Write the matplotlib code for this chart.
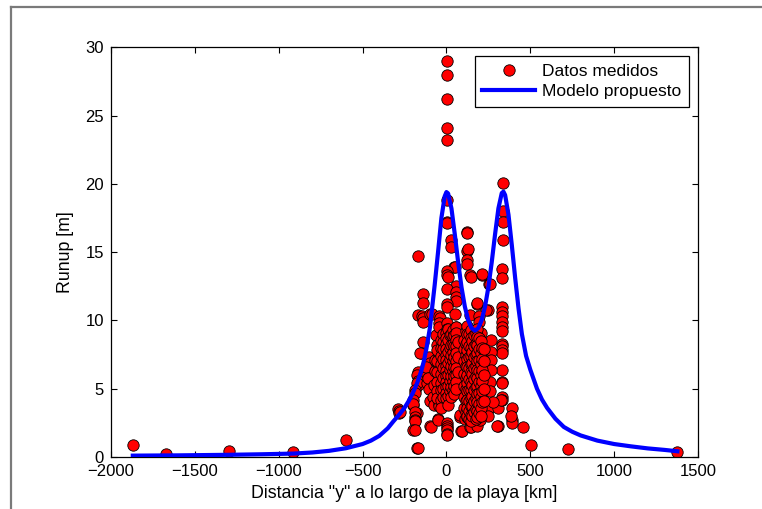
import matplotlib
matplotlib.use("Agg")
import matplotlib.pyplot as plt
from matplotlib.lines import Line2D

plt.rcParams['font.family'] = ['Liberation Sans', 'DejaVu Sans']

# Measured runup along the coast: distance y [km], runup [m]
runup_x = [
    # far field
    -1870, -1674, -1296, -917, -600,
    -287, -283, -280, -277,
    1377, 723, 503, 455, 389, 389, 392, 385, 310, 304, 256, 310,
    # southern flank
    -171, -138, -138, -168, -147, -141, -138, -98, -88, -141, -153, -157,
    -102, -98, -168, -168, -177, -168, -168, -177, -187, -187, -198, -197,
    -198, -177, -187, -187, -187, -187, -197, -190, -174, -171, -114, -117,
    -98, -98, -94, -48, -48,
    -120, -112, -105, -80, -75, -70, -70, -75, -65,
    # first peak
    2, 2, 2, 2, 2,
    2, 2, 2, 26, 26, 47, 51, 2, 2, 10, 57, 57, 2, 57, 57, 57, 2, 2, 51,
    -42, -38, -42, -42, 2, 2, 2, 57, 57, 57,
    # between peaks
    125, 121, 121, 127, 121, 121, 141, 147, 210, 210, 256, 260, 246, 236,
    184, 181, 141, 194, 194, 206,
    # second peak
    336, 336, 336, 336, 334, 334, 334, 334, 334, 334, 334, 334, 334, 334,
    334, 334, 334, 334, 330, 330, 324, 332,
    266, 266, 266, 266, 262, 262, 250, 276,
    # low values near the centre
    2, 2, 2, 2, 2, 2, 81, 81, 87, 91, 111, 121, 141, 147, 181, 200,
    # dense stations
    -42, -42, -42, -42, -42, -42, -42, -42, -42, -42, -42, -42, -42, -42, -42,
    -55, -55, -55, -55, -55, -55, -55,
    -30, -30, -30, -30, -30, -30, -30, -30, -30,
    -20, -20, -20, -20, -20, -20, -20, -20,
    0, 0, 0, 0, 0, 0, 0, 0, 0, 0, 0, 0, 0,
    10, 10, 10, 10, 10, 10, 10, 10,
    20, 20, 20, 20, 20, 20,
    30, 30, 30, 30, 30, 30, 30,
    40, 40, 40, 40, 40, 40, 40, 40,
    48, 48, 48, 48, 48, 48, 48,
    57, 57, 57, 57, 57, 57, 57, 57, 57, 57,
    70, 70, 70,
    105, 105, 105, 105, 105, 105, 105,
    115, 115, 115, 115, 115, 115, 115, 115,
    125, 125, 125, 125, 125, 125, 125, 125, 125, 125, 125, 125,
    135, 135, 135, 135, 135, 135, 135, 135, 135,
    145, 145, 145, 145, 145, 145, 145, 145, 145, 145, 145, 145,
    155, 155, 155, 155, 155, 155, 155, 155,
    165, 165, 165, 165, 165, 165, 165, 165,
    175, 175, 175, 175, 175, 175, 175, 175, 175,
    185, 185, 185, 185, 185, 185, 185, 185, 185, 185, 185, 185,
    195, 195, 195, 195, 195, 195, 195, 195,
    205, 205, 205, 205, 205, 205, 205, 205,
    215, 215, 215, 215, 215, 215,
    225, 225, 225, 225, 225,
]
runup_y = [
    0.88, 0.24, 0.46, 0.39, 1.24,
    3.5, 3.4, 3.2, 3.3,
    0.37, 0.56, 0.85, 2.2, 3.6, 2.7, 2.5, 3.0, 2.3, 2.3, 3.6, 3.6,
    14.7, 11.9, 11.3, 10.4, 10.3, 10.2, 9.9, 10.5, 10.5, 8.4, 7.6, 7.6,
    7.3, 6.9, 6.2, 5.9, 6.0, 5.6, 5.3, 5.4, 4.9, 4.7, 4.2, 3.8,
    3.9, 3.2, 3.3, 2.9, 2.7, 2.6, 2.0, 2.0, 0.68, 0.64, 6.1, 5.4,
    4.1, 2.3, 2.2, 2.8, 2.7,
    6.6, 5.8, 5.0, 4.4, 5.3, 6.3, 7.1, 3.8, 8.9,
    29.0, 28.0, 26.2, 24.1, 23.2,
    18.8, 17.2, 17.1, 15.9, 15.4, 13.9, 13.9, 13.6, 13.3, 13.2, 12.4, 12.5,
    12.3, 12.1, 11.7, 11.4, 11.2, 11.0, 10.5,
    10.3, 10.2, 9.8, 9.5, 9.8, 9.4, 9.1, 9.5, 9.1, 8.6,
    16.5, 16.4, 15.1, 15.2, 14.4, 14.1, 13.3, 13.2, 13.3, 13.4, 12.7, 12.7,
    10.8, 10.8, 11.2, 11.3, 10.4, 10.3, 9.9, 9.1,
    20.1, 18.0, 17.2, 15.9, 13.8, 13.1, 11.0, 10.6, 10.3, 9.9, 9.5, 9.2,
    8.3, 8.1, 7.8, 7.6, 6.4, 5.5, 4.4, 4.2, 4.2, 5.4,
    8.6, 7.7, 7.1, 6.4, 5.5, 4.8, 3.0, 4.0,
    2.5, 2.3, 2.1, 2.0, 1.7, 1.6, 2.9, 3.1, 1.9, 1.9, 2.8, 2.9, 2.2, 2.2, 2.3, 2.7,
    7.8, 7.5, 7.2, 6.9, 6.6, 6.3, 6.0, 5.7, 5.4, 5.1, 4.8, 4.5, 4.2, 3.9, 3.7,
    8.2, 7.8, 7.0, 6.2, 5.5, 4.8, 4.3,
    8.6, 8.0, 7.4, 6.8, 6.1, 5.4, 4.9, 4.2, 3.6,
    9.0, 8.4, 7.9, 7.2, 6.5, 5.8, 5.0, 4.4,
    9.1, 8.7, 8.3, 7.9, 7.5, 7.1, 6.7, 6.3, 5.9, 5.5, 5.1, 4.7, 4.3,
    9.4, 8.6, 7.7, 6.9, 6.0, 5.2, 4.5, 3.8,
    8.9, 8.0, 7.2, 6.4, 5.6, 4.8,
    9.0, 8.2, 7.5, 6.7, 5.9, 5.1, 4.4,
    9.3, 8.8, 8.3, 7.7, 7.0, 6.3, 5.6, 4.9,
    8.9, 8.1, 7.3, 6.6, 5.9, 5.2, 4.6,
    9.5, 9.1, 8.6, 8.1, 7.6, 7.0, 6.5, 6.0, 5.5, 5.0,
    8.4, 7.3, 6.2,
    8.6, 7.9, 7.0, 6.1, 5.2, 4.4, 3.6,
    9.2, 8.3, 7.5, 6.7, 5.8, 5.0, 4.1, 3.3,
    9.6, 9.0, 8.4, 7.8, 7.2, 6.6, 6.0, 5.4, 4.8, 4.2, 3.6, 3.0,
    9.0, 8.1, 7.3, 6.5, 5.7, 4.9, 4.1, 3.4, 2.8,
    9.3, 8.7, 8.0, 7.4, 6.8, 6.2, 5.5, 4.9, 4.3, 3.7, 3.1, 2.6,
    8.5, 7.7, 6.9, 6.1, 5.3, 4.5, 3.7, 3.0,
    8.9, 8.1, 7.3, 6.5, 5.7, 4.9, 4.1, 3.3,
    9.1, 8.3, 7.5, 6.7, 5.9, 5.1, 4.3, 3.5, 2.8,
    9.4, 8.8, 8.2, 7.6, 7.0, 6.4, 5.8, 5.2, 4.6, 4.0, 3.4, 2.9,
    8.7, 7.9, 7.1, 6.3, 5.5, 4.7, 3.9, 3.2,
    8.5, 7.6, 6.8, 6.0, 5.2, 4.4, 3.6, 3.0,
    8.0, 7.2, 6.4, 5.6, 4.8, 4.0,
    7.9, 7.0, 6.0, 5.0, 4.1,
]

# Proposed model curve (distance [km], runup [m])
model_x = [
    -1870, -1600, -1300, -1100, -913, -800, -700, -600, -500, -450, -400,
    -350, -317, -275, -250, -225, -200, -175, -150, -135, -120, -110, -98,
    -90, -70, -50, -30, -10, 0, 10, 30, 50, 70, 90, 110, 130, 150, 170,
    190, 210, 230, 250, 270, 290, 310, 330, 340, 350, 370, 390, 410, 430,
    450, 475, 500, 520, 540, 570, 600, 650, 700, 750, 800, 900, 1000,
    1100, 1200, 1300, 1377,
]
model_y = [
    0.10, 0.12, 0.16, 0.20, 0.25, 0.33, 0.45, 0.64, 0.95, 1.20, 1.55,
    2.10, 2.60, 3.20, 3.60, 4.10, 4.70, 5.40, 6.30, 7.00, 7.90, 8.60, 9.50,
    10.40, 12.60, 15.00, 17.50, 19.10, 19.40, 19.30, 18.20, 16.30, 14.25,
    12.42, 11.00, 10.02, 9.44, 9.25, 9.44, 10.02, 11.00, 12.42, 14.25,
    16.31, 18.21, 19.33, 19.43, 19.18, 17.74, 15.50, 13.09, 10.87, 9.00,
    7.40, 6.40, 5.70, 5.00, 4.20, 3.60, 2.80, 2.20, 1.85, 1.58, 1.20, 0.95,
    0.78, 0.63, 0.52, 0.42,
]

x_ticks = [-2000, -1500, -1000, -500, 0, 500, 1000, 1500]
y_ticks = [0, 5, 10, 15, 20, 25, 30]

fig = plt.figure(figsize=(7.62, 5.09), dpi=100)
ax = fig.add_axes([111 / 762, 1 - 457 / 509, (698 - 111) / 762, (457 - 47.3) / 509])

ax.plot(runup_x, runup_y, linestyle='none', marker='o', markersize=8.2,
        markerfacecolor=(1, 0, 0), markeredgecolor='black',
        markeredgewidth=0.6, label='Datos medidos', zorder=2)
ax.plot(model_x, model_y, color=(0, 0, 1), linewidth=3,
        solid_joinstyle='round', label='Modelo propuesto', zorder=3)

ax.set_xlim(-2000, 1500)
ax.set_ylim(0, 30)
ax.set_xticks(x_ticks)
ax.set_yticks(y_ticks)
ax.tick_params(direction='in', length=4, width=0.8, top=True, right=True,
               labelsize=12, pad=5, colors='black')
for sp in ax.spines.values():
    sp.set_linewidth(0.9)

ax.set_xlabel('Distancia "y" a lo largo de la playa [km]', fontsize=12.75, labelpad=4)
ax.set_ylabel('Runup [m]', fontsize=12.75, labelpad=8)

leg = ax.legend(loc='upper right', fontsize=12.5, frameon=True, fancybox=False,
                edgecolor='black', framealpha=1, borderpad=0.45,
                handlelength=3.05, handletextpad=0.4, labelspacing=0.3,
                borderaxespad=0.5, numpoints=1)
leg.get_frame().set_linewidth(0.9)

# Grey figure frame along the top and left edges
fig.add_artist(Line2D([11 / 762, 1.0], [1 - 7 / 509, 1 - 7 / 509],
                      transform=fig.transFigure, color='#7a7a7a', linewidth=1.6))
fig.add_artist(Line2D([11 / 762, 11 / 762], [0.0, 1 - 7 / 509],
                      transform=fig.transFigure, color='#7a7a7a', linewidth=1.6))

fig.savefig('out.png', dpi=100)
